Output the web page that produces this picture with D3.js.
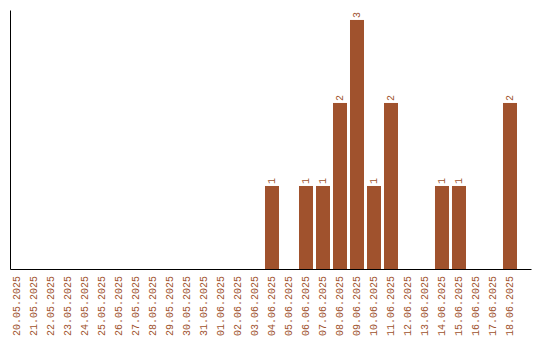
<!DOCTYPE html>
<html>
<head>
<meta charset="utf-8">
<script src="https://cdn.jsdelivr.net/npm/d3@7"></script>
<style>
  body { margin: 0; background: #fff; }
  text { font-family: "Liberation Mono", monospace; font-size: 10px; }
</style>
</head>
<body>
<svg width="540" height="340"></svg>
<script>
const dates = ['20.05.2025', '21.05.2025', '22.05.2025', '23.05.2025', '24.05.2025',
  '25.05.2025', '26.05.2025', '27.05.2025', '28.05.2025', '29.05.2025',
  '30.05.2025', '31.05.2025', '01.06.2025', '02.06.2025', '03.06.2025',
  '04.06.2025', '05.06.2025', '06.06.2025', '07.06.2025', '08.06.2025',
  '09.06.2025', '10.06.2025', '11.06.2025', '12.06.2025', '13.06.2025',
  '14.06.2025', '15.06.2025', '16.06.2025', '17.06.2025', '18.06.2025'];
const counts = [0, 0, 0, 0, 0, 0, 0, 0, 0, 0,
  0, 0, 0, 0, 0, 1, 0, 1, 1, 2,
  3, 1, 2, 0, 0, 1, 1, 0, 0, 2];

const color = '#a0522d';
const svg = d3.select('svg');
const bottom = 269;

const x = d3.scaleBand()
  .domain(dates)
  .range([10, 531])
  .paddingInner(3 / 17)
  .paddingOuter(0.412)
  .align(0);

const y = d3.scaleLinear()
  .domain([0, d3.max(counts) * 1.04])
  .range([bottom, 10]);

const data = dates.map((d, i) => ({ date: d, value: counts[i] }));

// bars
svg.append('g').selectAll('rect')
  .data(data.filter(d => d.value > 0))
  .enter().append('rect')
    .attr('x', d => x(d.date))
    .attr('y', d => y(d.value))
    .attr('width', x.bandwidth())
    .attr('height', d => bottom - y(d.value))
    .attr('fill', color);

// value labels
svg.append('g').selectAll('text')
  .data(data.filter(d => d.value > 0))
  .enter().append('text')
    .attr('transform', d => `translate(${x(d.date) + x.bandwidth() / 2},${y(d.value) - 2}) rotate(-90)`)
    .attr('dy', '0.35em')
    .attr('fill', color)
    .text(d => d.value);

// axes
const xAxis = svg.append('g')
  .attr('transform', `translate(0,${bottom})`)
  .call(d3.axisBottom(x).tickSize(0).tickSizeOuter(0));
xAxis.select('.domain').attr('stroke', '#000');
xAxis.selectAll('text')
  .attr('transform', 'rotate(-90)')
  .attr('text-anchor', 'end')
  .attr('x', -7)
  .attr('y', 0)
  .attr('dy', '0.35em')
  .attr('fill', color)
  .style('font-family', '"Liberation Mono", monospace')
  .style('font-size', '10px');

const yAxis = svg.append('g')
  .attr('transform', 'translate(10,0)')
  .call(d3.axisLeft(y).tickValues([]).tickSizeOuter(0));
yAxis.select('.domain').attr('stroke', '#000');
</script>
</body>
</html>
